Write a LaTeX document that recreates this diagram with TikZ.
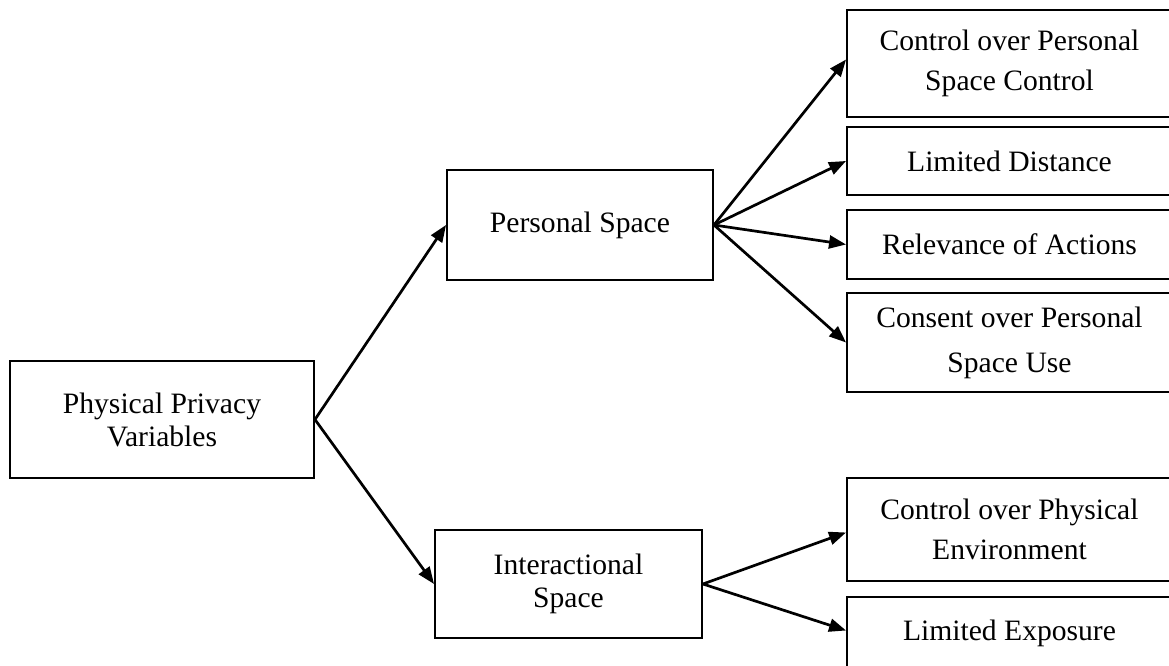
\documentclass[tikz,border=0pt]{standalone}
\usepackage{fontspec}
\setmainfont{Liberation Serif}
\usetikzlibrary{arrows.meta}
\begin{document}
\begin{tikzpicture}[x=0.5pt,y=-0.5pt,
  box/.style={draw=black, line width=0.95pt, align=center, inner sep=0pt,
    font=\fontsize{14.8}{20}\selectfont},
  tight/.style={font=\fontsize{14.8}{16.5}\selectfont},
  loose/.style={font=\fontsize{14.8}{22.5}\selectfont},
  conn/.style={line width=1.35pt, -{Triangle[length=8.5pt,width=6.5pt]}}]
\useasboundingbox (0,0) rectangle (1169,665);
\fill[white] (0,0) rectangle (1169,665);
\clip (0,0) rectangle (1169,665);
% left and middle boxes
\node[box, tight, minimum width=152pt, minimum height=58.5pt] (phys) at (162,419.5) {Physical Privacy\\Variables};
\node[box, minimum width=133pt, minimum height=55pt] (pers) at (580,225) {Personal Space};
\node[box, tight, minimum width=133.5pt, minimum height=54pt] (inter) at (568.5,584) {Interactional\\Space};
% right boxes
\node[box, minimum width=162.5pt, minimum height=53.5pt] (r1) at (1009.5,63.5) {Control over Personal\\Space Control};
\node[box, minimum width=162.5pt, minimum height=34pt] (r2) at (1009.5,161) {Limited Distance};
\node[box, minimum width=162.5pt, minimum height=34.5pt] (r3) at (1009.5,244.5) {Relevance of Actions};
\node[box, loose, minimum width=162.5pt, minimum height=49.5pt] (r4) at (1009.5,342.5) {Consent over Personal\\Space Use};
\node[box, minimum width=162.5pt, minimum height=51.5pt] (r5) at (1009.5,529.5) {Control over Physical\\Environment};
\node[box, minimum width=162.5pt, minimum height=36.5pt] (r6) at (1009.5,633.5) {Limited Exposure};
% connectors
\draw[conn] (phys.east) -- (pers.west);
\draw[conn] (phys.east) -- (inter.west);
\draw[conn] (pers.east) -- ([yshift=2pt]r1.west);
\draw[conn] (pers.east) -- (r2.west);
\draw[conn] (pers.east) -- (r3.west);
\draw[conn] (pers.east) -- (r4.west);
\draw[conn] (inter.east) -- ([yshift=-1.5pt]r5.west);
\draw[conn] (inter.east) -- ([yshift=1.5pt]r6.west);
\end{tikzpicture}
\end{document}
